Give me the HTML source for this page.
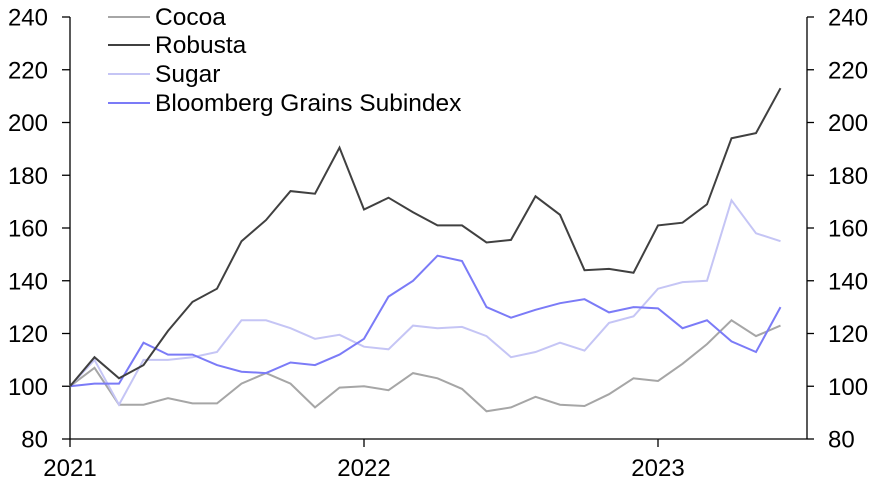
<!DOCTYPE html>
<html><head><meta charset="utf-8"><style>
html,body{margin:0;padding:0;background:#fff;}
svg{display:block;font-family:"Liberation Sans",Arial,sans-serif;}
</style></head><body>
<svg id="c" width="879" height="482" xmlns="http://www.w3.org/2000/svg">
<g id="axes" stroke="#000" stroke-width="1.3" fill="none">
<line x1="70" y1="17" x2="70" y2="439"/>
<line x1="807" y1="17" x2="807" y2="439"/>
<line x1="70" y1="439" x2="807" y2="439"/>
</g>
<g id="ticks" stroke="#000" stroke-width="1.3"></g>
<g id="labels" font-size="24" fill="#000"></g>
<g id="series" fill="none" stroke-width="2"></g>
<g font-size="24.5" fill="#000">
<line x1="108" y1="17" x2="150" y2="17" stroke="#a6a6a6" stroke-width="2"/>
<text x="155" y="25">Cocoa</text>
<line x1="108" y1="45" x2="150" y2="45" stroke="#404040" stroke-width="2"/>
<text x="155" y="53">Robusta</text>
<line x1="108" y1="74" x2="150" y2="74" stroke="#c5c5f5" stroke-width="2"/>
<text x="155" y="82">Sugar</text>
<line x1="108" y1="103" x2="150" y2="103" stroke="#7b7bf7" stroke-width="2"/>
<text x="155" y="111">Bloomberg Grains Subindex</text>
</g>
</svg>
<script>
const ns="http://www.w3.org/2000/svg";
function Y(v){return 439-(v-80)*422/160;}
function X(i){return 70+i*24.5;}
const t=document.getElementById('ticks'),l=document.getElementById('labels'),s=document.getElementById('series');
function el(p,tag,a,txt){const e=document.createElementNS(ns,tag);for(const k in a)e.setAttribute(k,a[k]);if(txt)e.textContent=txt;p.appendChild(e);}
for(let v=80;v<=240;v+=20){const y=Y(v);
el(t,'line',{x1:62,y1:y,x2:70,y2:y});el(t,'line',{x1:807,y1:y,x2:814,y2:y});
el(l,'text',{x:48,y:y+8.5,'text-anchor':'end'},String(v));
el(l,'text',{x:828,y:y+8.5},String(v));}
[0,12,24].forEach((m,i)=>{const x=X(m);el(t,'line',{x1:x,y1:439,x2:x,y2:447});
el(l,'text',{x:x,y:476,'text-anchor':'middle'},String(2021+i));});
const D={
"#a6a6a6":[100,107,93,93,95.5,93.5,93.5,101,105,101,92,99.5,100,98.5,105,103,99,90.5,92,96,93,92.5,97,103,102,108.5,116,125,119,123],
"#c5c5f5":[100,110,93,110,110,111,113,125,125,122,118,119.5,115,114,123,122,122.5,119,111,113,116.5,113.5,124,126.5,137,139.5,140,170.5,158,155],
"#7b7bf7":[100,101,101,116.5,112,112,108,105.5,105,109,108,112,118,134,140,149.5,147.5,130,126,129,131.5,133,128,130,129.5,122,125,117,113,130],
"#404040":[100,111,103,108,121,132,137,155,163,174,173,190.5,167,171.5,166,161,161,154.5,155.5,172,165,144,144.5,143,161,162,169,194,196,213]};
for(const c in D){el(s,'polyline',{stroke:c,points:D[c].map((v,i)=>X(i)+','+Y(v).toFixed(1)).join(' ')});}
</script>
</body></html>
